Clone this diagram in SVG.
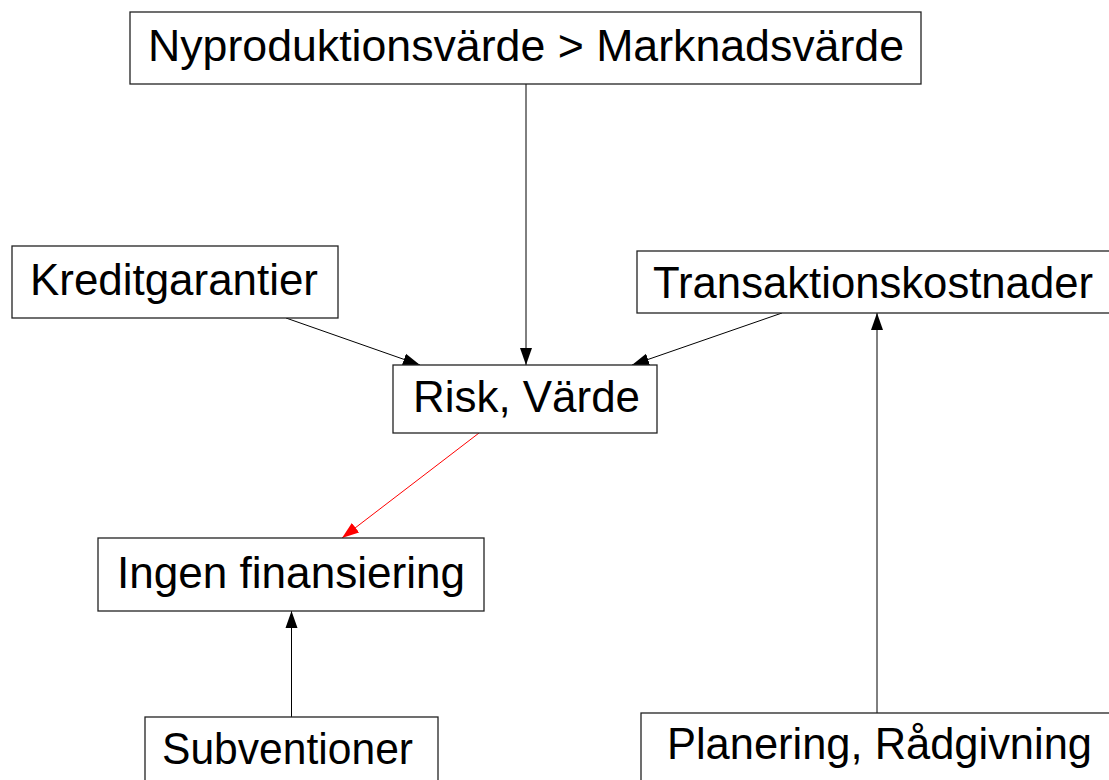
<svg xmlns="http://www.w3.org/2000/svg" width="1109" height="780" viewBox="0 0 1109 780">
<style>
.box{fill:#fff;stroke:#222;stroke-width:1.3}
.lbl{font-family:"Liberation Sans",Arial,sans-serif;font-size:44px;fill:#000}
.edge{fill:none;stroke:#000;stroke-width:1}
.red{stroke:#ff0000}
</style>
<defs>
<marker id="ah" markerUnits="userSpaceOnUse" markerWidth="18" markerHeight="14" viewBox="0 0 18 14" refX="17" refY="7" orient="auto">
<path d="M0,1 L17,7 L0,13 Z" fill="#000"/>
</marker>
<marker id="ahr" markerUnits="userSpaceOnUse" markerWidth="18" markerHeight="14" viewBox="0 0 18 14" refX="17" refY="7" orient="auto">
<path d="M0,1 L17,7 L0,13 Z" fill="#ff0000"/>
</marker>
</defs>
<rect width="1109" height="780" fill="#fff"/>
<g id="connectors">
<line class="edge" x1="526" y1="84" x2="526" y2="365" marker-end="url(#ah)"/>
<line class="edge" x1="286" y1="318" x2="420" y2="365" marker-end="url(#ah)"/>
<line class="edge" x1="782" y1="313" x2="632" y2="365" marker-end="url(#ah)"/>
<line class="edge red" x1="479" y1="433" x2="342" y2="538" marker-end="url(#ahr)"/>
<line class="edge" x1="291.5" y1="717" x2="291.5" y2="611" marker-end="url(#ah)"/>
<line class="edge" x1="877" y1="713" x2="877" y2="313" marker-end="url(#ah)"/>
</g>
<g id="node-nyproduktion">
<rect class="box" x="130" y="12" width="791" height="72"/>
<text class="lbl" x="148" y="61" textLength="756" lengthAdjust="spacingAndGlyphs">Nyproduktionsvärde &gt; Marknadsvärde</text>
</g>
<g id="node-kreditgarantier">
<rect class="box" x="12" y="246" width="326" height="72"/>
<text class="lbl" x="30" y="295" textLength="288" lengthAdjust="spacingAndGlyphs">Kreditgarantier</text>
</g>
<g id="node-transaktionskostnader">
<rect class="box" x="637" y="251" width="490" height="62"/>
<text class="lbl" x="653" y="298" textLength="440" lengthAdjust="spacingAndGlyphs">Transaktionskostnader</text>
</g>
<g id="node-risk">
<rect class="box" x="393" y="365" width="264" height="68"/>
<text class="lbl" x="413" y="412" textLength="227" lengthAdjust="spacingAndGlyphs">Risk, Värde</text>
</g>
<g id="node-ingen">
<rect class="box" x="98" y="538" width="386" height="73"/>
<text class="lbl" x="117" y="588" textLength="348" lengthAdjust="spacingAndGlyphs">Ingen finansiering</text>
</g>
<g id="node-subventioner">
<rect class="box" x="145" y="717" width="293" height="72"/>
<text class="lbl" x="162" y="764" textLength="251" lengthAdjust="spacingAndGlyphs">Subventioner</text>
</g>
<g id="node-planering">
<rect class="box" x="641" y="713" width="490" height="72"/>
<text class="lbl" x="667" y="759" textLength="425" lengthAdjust="spacingAndGlyphs">Planering, Rådgivning</text>
</g>
</svg>
